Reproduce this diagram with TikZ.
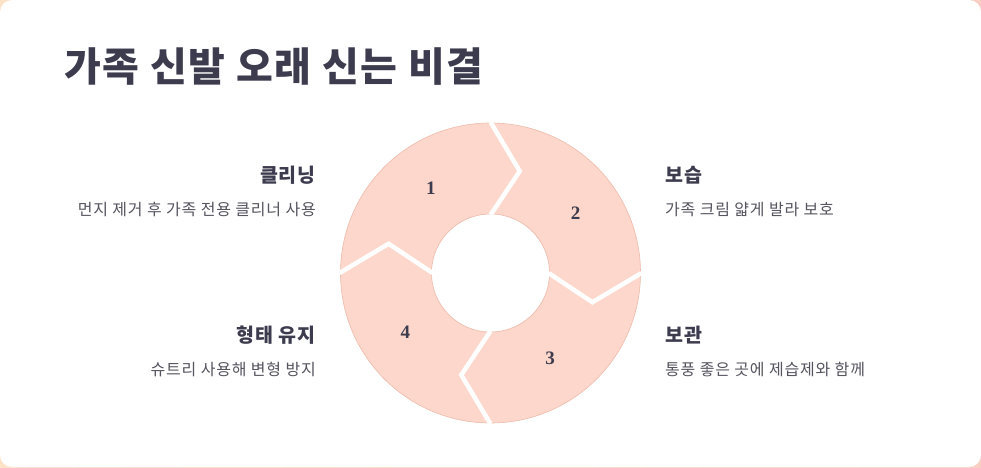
\documentclass[tikz,border=0pt]{standalone}
\usepackage{fontspec}
\setmainfont{Noto Sans CJK KR}
\newfontfamily\numfont{Liberation Serif}
\usetikzlibrary{positioning,calc}
\definecolor{ink}{HTML}{3D3B4E}
\definecolor{muted}{HTML}{55545F}
\definecolor{segfill}{HTML}{FDD7CB}
\definecolor{segline}{HTML}{EDBBAB}
\definecolor{peach}{HTML}{FDE2C8}
\definecolor{salmon}{HTML}{F9CFC4}
\tikzset{
  title/.style={
    inner sep=0pt,
    text=ink,
    font=\fontsize{40}{42}\selectfont\bfseries\addfontfeatures{LetterSpace=4}
  },
  head/.style={
    inner sep=0pt,
    text=ink,
    font=\fontsize{19.5}{21}\selectfont\bfseries\addfontfeatures{LetterSpace=5}
  },
  desc/.style={
    inner sep=0pt,
    text=muted,
    font=\fontsize{16}{18}\selectfont\addfontfeatures{LetterSpace=5}
  },
  segment/.style={
    fill=segfill,
    draw=segline,
    line width=0.6pt
  },
  gap/.style={
    draw=white,
    line width=4.5pt,
    line join=miter
  },
  num/.style={
    inner sep=0pt,
    text=ink,
    font=\fontsize{19}{20}\selectfont\numfont\bfseries
  }
}

\begin{document}
\begin{tikzpicture}[x=1pt,y=1pt,node distance=20pt]

\useasboundingbox (0,0) rectangle (981,467);
\shade[left color=peach, right color=salmon] (0,0) rectangle (981,467);
\fill[white, rounded corners=12pt] (0,0) rectangle (981,467);

\node[title, anchor=west] (heading) at (64,400) {가족 신발 오래 신는 비결};

% Ring of four steps
\coordinate (c) at (490.5,194);
\foreach \a/\n in {180/1,90/2,0/3,-90/4} {
  \pgfmathsetmacro{\b}{\a-90}
  \draw[segment] ($(c)+(\a:150)$) arc[start angle=\a, end angle=\b, radius=150]
    -- ($(c)+(\b-16:106)$) -- ($(c)+(\b:59)$)
    arc[start angle=\b, end angle=\a, radius=59]
    -- ($(c)+(\a-16:106)$) -- cycle;
  \node[num] (n\n) at ($(c)+(\a-55:104)$) {\n};
}

% White gaps between the steps
\foreach \a in {180,90,0,-90} {
  \draw[gap] ($(c)+(\a:151)$) -- ($(c)+(\a-16:106)$) -- ($(c)+(\a:58)$);
}

% Left side labels
\node[head, anchor=east] (clean) at (316,292) {클리닝};
\node[desc, below=18pt of clean.south east, anchor=north east] (cleantxt) {먼지 제거 후 가족 전용 클리너 사용};
\node[head, anchor=east] (shape) at (316,132) {형태 유지};
\node[desc, below=18pt of shape.south east, anchor=north east] (shapetxt) {슈트리 사용해 변형 방지};

% Right side labels
\node[head, anchor=west] (moist) at (665,292) {보습};
\node[desc, below=18pt of moist.south west, anchor=north west] (moisttxt) {가족 크림 얇게 발라 보호};
\node[head, anchor=west] (store) at (665,132) {보관};
\node[desc, below=18pt of store.south west, anchor=north west] (storetxt) {통풍 좋은 곳에 제습제와 함께};

\end{tikzpicture}
\end{document}
